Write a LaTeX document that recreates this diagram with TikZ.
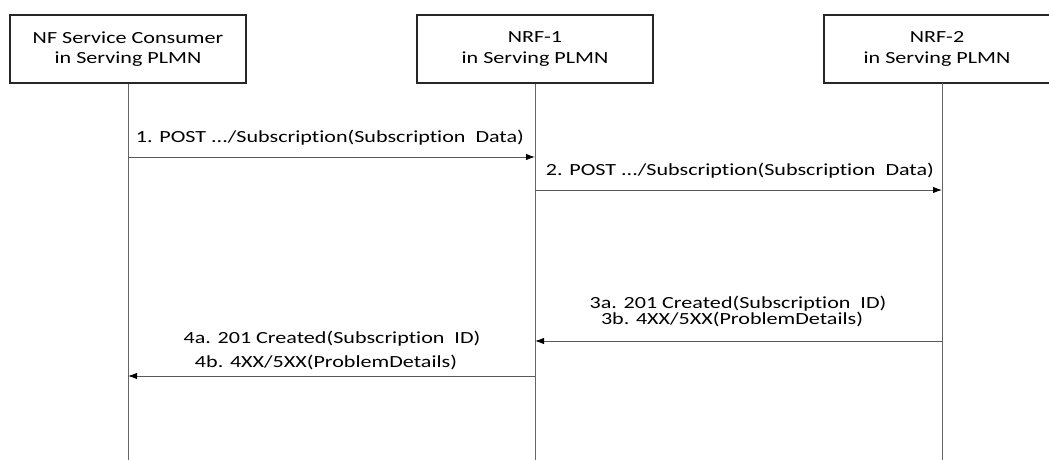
\documentclass[tikz,border=0pt]{standalone}
\usepackage{fontspec}
\setmainfont{Carlito}[FakeStretch=1.3,Ligatures=NoCommon]
\usetikzlibrary{arrows.meta}
\begin{document}
\begin{tikzpicture}[x=1pt,y=-1pt,
  ent/.style={draw=black!85,line width=1.2pt,minimum width=236pt,minimum height=68pt,align=center,inner sep=0pt,font=\fontsize{17}{20.5}\selectfont},
  life/.style={draw=black!60,line width=1pt},
  msg/.style={draw=black!65,line width=1pt,-{Latex[length=9pt,width=6.5pt,color=black]}},
  lab/.style={align=center,inner sep=0pt,font=\fontsize{17}{15}\selectfont}]
\useasboundingbox (0,0) rectangle (1049,460);
\node[ent] (cons) at (128,49) {NF Service Consumer\\in Serving PLMN};
\node[ent] (nrf1) at (535,49) {NRF-1\\in Serving PLMN};
\node[ent,minimum width=226pt] (nrf2) at (937,49) {NRF-2\\in Serving PLMN};
\coordinate (e1) at (128,460);
\coordinate (e2) at (535,460);
\coordinate (e3) at (942,460);
\draw[life] (cons.south) -- (e1);
\draw[life] (nrf1.south) -- (e2);
\draw[life] (942,83) coordinate (s3) -- (e3);
\coordinate (a1s) at (128,157); \coordinate (a1e) at (535,157);
\coordinate (a2s) at (535,190); \coordinate (a2e) at (942,190);
\coordinate (a3s) at (942,341); \coordinate (a3e) at (535,341);
\coordinate (a4s) at (535,376); \coordinate (a4e) at (128,376);
\draw[msg] (a1s) -- (a1e);
\draw[msg] (a2s) -- (a2e);
\draw[msg] (a3s) -- (a3e);
\draw[msg] (a4s) -- (a4e);
\node[lab] (l1) at (330,138) {1. POST .../Subscription(Subscription\ \ Data)};
\node[lab] (l2) at (740,171) {2. POST .../Subscription(Subscription\ \ Data)};
\node[lab] (l3a) at (738,304) {3a. 201 Created(Subscription\ \ ID)};
\node[lab] (l3b) at (732,319) {3b. 4XX/5XX(ProblemDetails)};
\node[lab] (l4a) at (332,339) {4a. 201 Created(Subscription\ \ ID)};
\node[lab] (l4b) at (326,362) {4b. 4XX/5XX(ProblemDetails)};
\end{tikzpicture}
\end{document}
